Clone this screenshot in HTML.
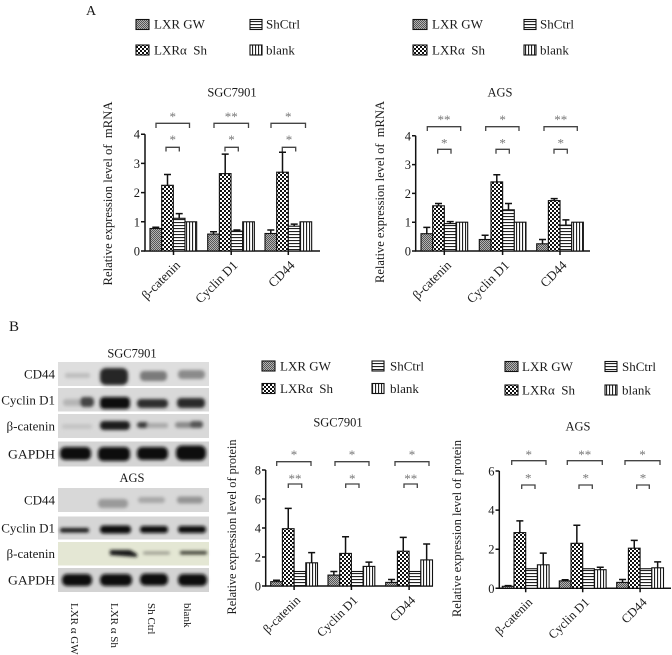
<!DOCTYPE html>
<html><head><meta charset="utf-8"><style>
html,body{margin:0;padding:0;background:#fff;}
svg{display:block;}
text{font-family:"Liberation Serif",serif;fill:#1a1a1a;}
.st{fill:#777;font-size:13px;}
.tk{font-size:12.5px;text-anchor:end;}
.lg{font-size:13px;}
.xl{font-size:13px;text-anchor:end;}
.ax{stroke:#111;stroke-width:1.5;fill:none;}
.br{stroke:#444;stroke-width:1.3;fill:none;}
.eb{stroke:#111;stroke-width:1.5;fill:none;}
.bar{stroke:#111;stroke-width:1.1;}
</style></head><body>
<svg width="672" height="655" viewBox="0 0 672 655" xmlns="http://www.w3.org/2000/svg">
<defs>
<pattern id="pGW" width="2" height="2" patternUnits="userSpaceOnUse"><rect width="2" height="2" fill="#b4b4b4"/><rect width="1" height="1" fill="#555"/><rect x="1" y="1" width="1" height="1" fill="#555"/></pattern>
<pattern id="pSh" width="4" height="4" patternUnits="userSpaceOnUse"><rect width="4" height="4" fill="#111"/><rect width="2" height="2" fill="#fff"/><rect x="2" y="2" width="2" height="2" fill="#fff"/></pattern>
<pattern id="pH" width="3" height="3" patternUnits="userSpaceOnUse"><rect width="3" height="3" fill="#fff"/><rect width="3" height="1.1" fill="#222"/></pattern>
<pattern id="pV" width="3" height="3" patternUnits="userSpaceOnUse"><rect width="3" height="3" fill="#fff"/><rect width="1.1" height="3" fill="#222"/></pattern>
<filter id="bl" x="-20%" y="-50%" width="140%" height="200%"><feGaussianBlur stdDeviation="1.6"/></filter>
<filter id="bl2" x="-20%" y="-50%" width="140%" height="200%"><feGaussianBlur stdDeviation="2.4"/></filter>
</defs>

<!-- ============ PANEL A LEGENDS ============ -->
<text x="86" y="15" font-size="14">A</text>
<rect x="136" y="19.5" width="13" height="10" fill="url(#pGW)" class="bar"/>
<text class="lg" x="154" y="28.5">LXR GW</text>
<rect x="250" y="19.5" width="12" height="10" fill="url(#pH)" class="bar"/>
<text class="lg" x="266" y="28.5">ShCtrl</text>
<rect x="136" y="45" width="13" height="10" fill="url(#pSh)" class="bar"/>
<text class="lg" x="154" y="54.5">LXRα&#160;&#160;Sh</text>
<rect x="250" y="45" width="12" height="10" fill="url(#pV)" class="bar"/>
<text class="lg" x="266" y="54.5">blank</text>

<rect x="413" y="19.5" width="14" height="10" fill="url(#pGW)" class="bar"/>
<text class="lg" x="432" y="28.5">LXR GW</text>
<rect x="524" y="19.5" width="12" height="10" fill="url(#pH)" class="bar"/>
<text class="lg" x="540" y="28.5">ShCtrl</text>
<rect x="413" y="45" width="14" height="10" fill="url(#pSh)" class="bar"/>
<text class="lg" x="432" y="54.5">LXRα&#160;&#160;Sh</text>
<rect x="524" y="45" width="12" height="10" fill="url(#pV)" class="bar"/>
<text class="lg" x="540" y="54.5">blank</text>

<!-- ============ CHART 1: SGC7901 mRNA ============ -->
<text x="232" y="96.5" font-size="12.5" text-anchor="middle">SGC7901</text>
<text transform="translate(112,193.5) rotate(-90)" font-size="13" text-anchor="middle" textLength="184" lengthAdjust="spacingAndGlyphs">Relative expression level of&#160;&#160;mRNA</text>
<path class="ax" d="M145,134.2 V251 H320"/>
<path class="ax" d="M141,251H145M141,221.8H145M141,192.6H145M141,163.4H145M141,134.2H145M173.5,251V255M231.2,251V255M288.3,251V255"/>
<text class="tk" x="140" y="255.5">0</text>
<text class="tk" x="140" y="226.3">1</text>
<text class="tk" x="140" y="197.1">2</text>
<text class="tk" x="140" y="167.9">3</text>
<text class="tk" x="140" y="138.7">4</text>
<!-- bars -->
<rect class="bar" x="150" y="228.5" width="11.67" height="22.5" fill="url(#pGW)"/>
<rect class="bar" x="161.67" y="185.3" width="11.67" height="65.7" fill="url(#pSh)"/>
<rect class="bar" x="173.33" y="218.3" width="11.67" height="32.7" fill="url(#pH)"/>
<rect class="bar" x="185" y="221.8" width="11.67" height="29.2" fill="url(#pV)"/>
<rect class="bar" x="207.7" y="234.1" width="11.67" height="16.9" fill="url(#pGW)"/>
<rect class="bar" x="219.37" y="173.6" width="11.67" height="77.4" fill="url(#pSh)"/>
<rect class="bar" x="231.03" y="231.1" width="11.67" height="19.9" fill="url(#pH)"/>
<rect class="bar" x="242.7" y="221.8" width="11.67" height="29.2" fill="url(#pV)"/>
<rect class="bar" x="265" y="233.5" width="11.67" height="17.5" fill="url(#pGW)"/>
<rect class="bar" x="276.67" y="172.2" width="11.67" height="78.8" fill="url(#pSh)"/>
<rect class="bar" x="288.33" y="226.2" width="11.67" height="24.8" fill="url(#pH)"/>
<rect class="bar" x="300" y="221.8" width="11.67" height="29.2" fill="url(#pV)"/>
<path class="eb" d="M155.8,228.5V227.3M152.3,227.3H159.3 M167.5,185.3V174.5M164,174.5H171 M179.2,218.3V213.6M175.7,213.6H182.7 M213.5,234.1V231.7M210,231.7H217 M225.2,173.6V154.1M221.7,154.1H228.7 M236.9,231.1V230M233.4,230H240.4 M270.8,233.5V230M267.3,230H274.3 M282.5,172.2V152.3M279,152.3H286 M294.2,226.2V224.1M290.7,224.1H297.7"/>
<!-- brackets -->
<path class="br" d="M156,128V123.3H189.5V128 M214,128V123.3H248.5V128 M271,128V123.3H305.5V128 M166,151.5V147.3H179.3V151.5 M225,151.5V147.3H238.3V151.5 M282.3,151.5V147.3H295.7V151.5"/>
<text class="st" x="172.7" y="121" text-anchor="middle">*</text>
<text class="st" x="231.2" y="121" text-anchor="middle">**</text>
<text class="st" x="288.3" y="121" text-anchor="middle">*</text>
<text class="st" x="172.7" y="144" text-anchor="middle">*</text>
<text class="st" x="231.5" y="144" text-anchor="middle">*</text>
<text class="st" x="289" y="144" text-anchor="middle">*</text>
<text class="xl" transform="translate(181,266) rotate(-45)">β-catenin</text>
<text class="xl" transform="translate(238.5,266) rotate(-45)">Cyclin D1</text>
<text class="xl" transform="translate(295.5,266) rotate(-45)">CD44</text>

<!-- ============ CHART 2: AGS mRNA ============ -->
<text x="500" y="96.5" font-size="12.5" text-anchor="middle">AGS</text>
<text transform="translate(384,192) rotate(-90)" font-size="13" text-anchor="middle" textLength="182" lengthAdjust="spacingAndGlyphs">Relative expression level of&#160;&#160;mRNA</text>
<path class="ax" d="M415.7,135.8 V251 H590"/>
<path class="ax" d="M412,251H415.7M412,222.2H415.7M412,193.4H415.7M412,164.6H415.7M412,135.8H415.7M444.3,251V255M502.6,251V255M560,251V255"/>
<text class="tk" x="411" y="255.5">0</text>
<text class="tk" x="411" y="226.7">1</text>
<text class="tk" x="411" y="197.9">2</text>
<text class="tk" x="411" y="169.1">3</text>
<text class="tk" x="411" y="140.3">4</text>
<rect class="bar" x="421" y="233.7" width="11.67" height="17.3" fill="url(#pGW)"/>
<rect class="bar" x="432.67" y="205.8" width="11.67" height="45.2" fill="url(#pSh)"/>
<rect class="bar" x="444.33" y="223.6" width="11.67" height="27.4" fill="url(#pH)"/>
<rect class="bar" x="456" y="222.2" width="11.67" height="28.8" fill="url(#pV)"/>
<rect class="bar" x="479.3" y="239.5" width="11.67" height="11.5" fill="url(#pGW)"/>
<rect class="bar" x="490.97" y="181.9" width="11.67" height="69.1" fill="url(#pSh)"/>
<rect class="bar" x="502.63" y="209.8" width="11.67" height="41.2" fill="url(#pH)"/>
<rect class="bar" x="514.3" y="222.2" width="11.67" height="28.8" fill="url(#pV)"/>
<rect class="bar" x="536.7" y="243.8" width="11.67" height="7.2" fill="url(#pGW)"/>
<rect class="bar" x="548.37" y="200.6" width="11.67" height="50.4" fill="url(#pSh)"/>
<rect class="bar" x="560.03" y="225.1" width="11.67" height="25.9" fill="url(#pH)"/>
<rect class="bar" x="571.7" y="222.2" width="11.67" height="28.8" fill="url(#pV)"/>
<path class="eb" d="M426.8,233.7V227.4M423.3,227.4H430.3 M438.5,205.8V203.5M435,203.5H442 M450.2,223.6V221.6M446.7,221.6H453.7 M485.1,239.5V235.2M481.6,235.2H488.6 M496.8,181.9V174.7M493.3,174.7H500.3 M508.5,209.8V203.5M505,203.5H512 M542.5,243.8V239.5M539,239.5H546 M554.2,200.6V198.6M550.7,198.6H557.7 M565.9,225.1V219.9M562.4,219.9H569.4"/>
<path class="br" d="M427.3,131V126.7H460.7V131 M485.7,131V126.7H519V131 M544,131V126.7H577.3V131 M437.7,153.7V149.3H451V153.7 M496,153.7V149.3H509.3V153.7 M554,153.7V149.3H567.3V153.7"/>
<text class="st" x="444" y="124" text-anchor="middle">**</text>
<text class="st" x="502.6" y="124" text-anchor="middle">*</text>
<text class="st" x="560.7" y="124" text-anchor="middle">**</text>
<text class="st" x="444.3" y="147.7" text-anchor="middle">*</text>
<text class="st" x="502.6" y="147.7" text-anchor="middle">*</text>
<text class="st" x="560.7" y="147.7" text-anchor="middle">*</text>
<text class="xl" transform="translate(452,266) rotate(-45)">β-catenin</text>
<text class="xl" transform="translate(510,266) rotate(-45)">Cyclin D1</text>
<text class="xl" transform="translate(567.5,266) rotate(-45)">CD44</text>

<!-- ============ PANEL B: WESTERN BLOTS ============ -->
<text x="9" y="331" font-size="15">B</text>
<text x="132" y="357.5" font-size="12.5" text-anchor="middle">SGC7901</text>
<text x="132" y="482" font-size="12.5" text-anchor="middle">AGS</text>

<g font-size="13" text-anchor="end">
<text x="55" y="378.5">CD44</text>
<text x="55" y="404.5">Cyclin D1</text>
<text x="55" y="430.5">β-catenin</text>
<text x="55" y="458.5" textLength="47" lengthAdjust="spacingAndGlyphs">GAPDH</text>
<text x="55" y="504.5">CD44</text>
<text x="55" y="532.5">Cyclin D1</text>
<text x="55" y="558">β-catenin</text>
<text x="55" y="584.5" textLength="47" lengthAdjust="spacingAndGlyphs">GAPDH</text>
</g>

<!-- SGC blots -->
<rect x="58" y="362" width="151" height="24" fill="#dedede"/>
<rect x="58" y="388" width="151" height="23.5" fill="#d9d9d9"/>
<rect x="58" y="414" width="151" height="24" fill="#d9d9d9"/>
<rect x="58" y="441.5" width="151" height="25" fill="#d4d4d4"/>
<g filter="url(#bl)">
<rect x="65" y="373" width="25" height="5" rx="2" fill="#bdbdbd"/>
<rect x="100" y="368" width="28" height="17" rx="6" fill="#262626"/>
<rect x="140" y="371" width="27" height="10" rx="4" fill="#7a7a7a"/>
<rect x="178" y="370" width="27" height="9" rx="4" fill="#8a8a8a"/>
<rect x="63" y="399" width="20" height="7" rx="3" fill="#b5b5b5"/>
<rect x="80" y="397" width="14" height="10" rx="4" fill="#444"/>
<rect x="100" y="397" width="30" height="12" rx="4" fill="#0d0d0d"/>
<rect x="137" y="399" width="31" height="9" rx="4" fill="#2e2e2e"/>
<rect x="177" y="398" width="28" height="10" rx="4" fill="#2a2a2a"/>
<rect x="62" y="424" width="30" height="5" rx="2" fill="#c4c4c4"/>
<rect x="100" y="421" width="30" height="9" rx="4" fill="#1e1e1e"/>
<rect x="137" y="422" width="12" height="6" rx="3" fill="#3a3a3a"/>
<rect x="147" y="423" width="21" height="5" rx="2" fill="#a8a8a8"/>
<rect x="175" y="422" width="28" height="6" rx="3" fill="#8a8a8a"/>
<rect x="190" y="421" width="13" height="7" rx="3" fill="#555"/>
<rect x="60" y="447" width="31" height="13" rx="5" fill="#0a0a0a"/>
<rect x="98" y="447" width="32" height="14" rx="5" fill="#0a0a0a"/>
<rect x="137" y="447" width="31" height="13" rx="5" fill="#0a0a0a"/>
<rect x="176" y="445.5" width="30" height="15" rx="6" fill="#0a0a0a"/>
</g>

<!-- AGS blots -->
<rect x="58" y="488" width="151" height="24" fill="#d8d8d8"/>
<rect x="58" y="516.5" width="151" height="23" fill="#d6d6d6"/>
<rect x="58" y="542" width="151" height="23.5" fill="#e4e7d4"/>
<rect x="58" y="568" width="151" height="24" fill="#d3d3d3"/>
<g filter="url(#bl)">
<rect x="98" y="499" width="30" height="9" rx="4" fill="#9a9a9a"/>
<rect x="138" y="497" width="27" height="6" rx="3" fill="#a8a8a8"/>
<rect x="177" y="496.5" width="26" height="7" rx="3" fill="#949494"/>
<rect x="60" y="528" width="29" height="4.5" rx="2" fill="#151515"/>
<rect x="100" y="525.5" width="31" height="8" rx="3.5" fill="#070707"/>
<rect x="140" y="526" width="28" height="7" rx="3" fill="#0d0d0d"/>
<rect x="178" y="526" width="28" height="7" rx="3" fill="#0d0d0d"/>
<path d="M110,550 L130,550 L137,554 L137,557 L130,556.5 L110,555 Z" fill="#151515"/>
<rect x="143" y="551.5" width="27" height="3" rx="1.5" fill="#9a9a8e"/>
<rect x="180" y="551" width="27" height="3.5" rx="1.5" fill="#3a3a32"/>
<rect x="62" y="574" width="30" height="12" rx="5" fill="#0a0a0a"/>
<rect x="100" y="574" width="32" height="12" rx="5" fill="#0a0a0a"/>
<rect x="140" y="573.5" width="28" height="12" rx="5" fill="#0a0a0a"/>
<rect x="178" y="574" width="29" height="12" rx="5" fill="#0a0a0a"/>
</g>

<g font-size="11" fill="#333">
<text transform="translate(71,603) rotate(90)">LXR α GW</text>
<text transform="translate(111,603) rotate(90)">LXR α Sh</text>
<text transform="translate(148,603) rotate(90)">Sh Ctrl</text>
<text transform="translate(184,603) rotate(90)">blank</text>
</g>

<!-- ============ PANEL B LEGENDS ============ -->
<rect x="262" y="361" width="13" height="10" fill="url(#pGW)" class="bar"/>
<text class="lg" x="280" y="370.5">LXR GW</text>
<rect x="372" y="361" width="12" height="10" fill="url(#pH)" class="bar"/>
<text class="lg" x="390" y="370.5">ShCtrl</text>
<rect x="262" y="383.5" width="13" height="10" fill="url(#pSh)" class="bar"/>
<text class="lg" x="280" y="393">LXRα&#160;&#160;Sh</text>
<rect x="372" y="383.5" width="12" height="10" fill="url(#pV)" class="bar"/>
<text class="lg" x="390" y="393">blank</text>

<rect x="505" y="361.5" width="13" height="10" fill="url(#pGW)" class="bar"/>
<text class="lg" x="522" y="371">LXR GW</text>
<rect x="605" y="361.5" width="12" height="10" fill="url(#pH)" class="bar"/>
<text class="lg" x="622" y="371">ShCtrl</text>
<rect x="505" y="385" width="13" height="10" fill="url(#pSh)" class="bar"/>
<text class="lg" x="522" y="394.5">LXRα&#160;&#160;Sh</text>
<rect x="605" y="385" width="12" height="10" fill="url(#pV)" class="bar"/>
<text class="lg" x="622" y="394.5">blank</text>

<!-- ============ CHART 3: SGC7901 protein ============ -->
<text x="338" y="426.5" font-size="12.5" text-anchor="middle">SGC7901</text>
<text transform="translate(236,527) rotate(-90)" font-size="12.5" text-anchor="middle" textLength="175" lengthAdjust="spacingAndGlyphs">Relative expression level of protein</text>
<path class="ax" d="M265.7,470 V586 H433"/>
<path class="ax" d="M262,586H265.7M262,557H265.7M262,528H265.7M262,499H265.7M262,470H265.7M294.1,586V590M351.4,586V590M409.1,586V590"/>
<text class="tk" x="261" y="590.5">0</text>
<text class="tk" x="261" y="561.5">2</text>
<text class="tk" x="261" y="532.5">4</text>
<text class="tk" x="261" y="503.5">6</text>
<text class="tk" x="261" y="474.5">8</text>
<rect class="bar" x="270.7" y="581.65" width="11.7" height="4.35" fill="url(#pGW)"/>
<rect class="bar" x="282.4" y="528.7" width="11.7" height="57.3" fill="url(#pSh)"/>
<rect class="bar" x="294.1" y="571.5" width="11.7" height="14.5" fill="url(#pH)"/>
<rect class="bar" x="305.8" y="562.8" width="11.7" height="23.2" fill="url(#pV)"/>
<rect class="bar" x="328" y="575.1" width="11.7" height="10.9" fill="url(#pGW)"/>
<rect class="bar" x="339.7" y="553.4" width="11.7" height="32.6" fill="url(#pSh)"/>
<rect class="bar" x="351.4" y="571.5" width="11.7" height="14.5" fill="url(#pH)"/>
<rect class="bar" x="363.1" y="566.4" width="11.7" height="19.6" fill="url(#pV)"/>
<rect class="bar" x="385.7" y="582.4" width="11.7" height="3.6" fill="url(#pGW)"/>
<rect class="bar" x="397.4" y="551.2" width="11.7" height="34.8" fill="url(#pSh)"/>
<rect class="bar" x="409.1" y="571.5" width="11.7" height="14.5" fill="url(#pH)"/>
<rect class="bar" x="420.8" y="559.9" width="11.7" height="26.1" fill="url(#pV)"/>
<path class="eb" d="M276.55,581.65V580.2M273,580.2H280 M288.25,528.7V508.4M284.75,508.4H291.75 M311.65,562.8V552.65M308.15,552.65H315.15 M333.85,575.1V571.5M330.35,571.5H337.35 M345.55,553.4V536.7M342.05,536.7H349.05 M368.95,566.4V562.1M365.45,562.1H372.45 M391.55,582.4V579.5M388.05,579.5H395.05 M403.25,551.2V537.4M399.75,537.4H406.75 M426.65,559.9V543.95M423.15,543.95H430.15"/>
<path class="br" d="M276.7,466V461.7H311V466 M335,466V461.7H369V466 M395,466V461.7H429V466 M288.3,488V484H301.7V488 M345.7,488V484H359V488 M404,488V484H417.3V488"/>
<text class="st" x="294" y="459" text-anchor="middle">*</text>
<text class="st" x="352" y="459" text-anchor="middle">*</text>
<text class="st" x="412" y="459" text-anchor="middle">*</text>
<text class="st" x="295" y="483" text-anchor="middle">**</text>
<text class="st" x="352.3" y="483" text-anchor="middle">*</text>
<text class="st" x="410.7" y="483" text-anchor="middle">**</text>
<g font-size="12.5" text-anchor="end">
<text transform="translate(301,601) rotate(-45)">β-catenin</text>
<text transform="translate(358.4,601) rotate(-45)">Cyclin D1</text>
<text transform="translate(416,601) rotate(-45)">CD44</text>
</g>

<!-- ============ CHART 4: AGS protein ============ -->
<text x="578" y="430.5" font-size="12.5" text-anchor="middle">AGS</text>
<text transform="translate(461,528.5) rotate(-90)" font-size="12.5" text-anchor="middle" textLength="177" lengthAdjust="spacingAndGlyphs">Relative expression level of protein</text>
<path class="ax" d="M499.3,471 V588.3 H671"/>
<path class="ax" d="M495.5,588.3H499.3M495.5,549.2H499.3M495.5,510.1H499.3M495.5,471H499.3M525.7,588.3V592.3M582.7,588.3V592.3M640.1,588.3V592.3"/>
<text class="tk" x="494.5" y="592.8">0</text>
<text class="tk" x="494.5" y="553.7">2</text>
<text class="tk" x="494.5" y="514.6">4</text>
<text class="tk" x="494.5" y="475.5">6</text>
<rect class="bar" x="502.3" y="586.3" width="11.7" height="2" fill="url(#pGW)"/>
<rect class="bar" x="514" y="532.6" width="11.7" height="55.7" fill="url(#pSh)"/>
<rect class="bar" x="525.7" y="568.75" width="11.7" height="19.55" fill="url(#pH)"/>
<rect class="bar" x="537.4" y="564.8" width="11.7" height="23.5" fill="url(#pV)"/>
<rect class="bar" x="559.3" y="580.9" width="11.7" height="7.4" fill="url(#pGW)"/>
<rect class="bar" x="571" y="543.3" width="11.7" height="45" fill="url(#pSh)"/>
<rect class="bar" x="582.7" y="568.75" width="11.7" height="19.55" fill="url(#pH)"/>
<rect class="bar" x="594.4" y="569.7" width="11.7" height="18.6" fill="url(#pV)"/>
<rect class="bar" x="616.7" y="582.4" width="11.7" height="5.9" fill="url(#pGW)"/>
<rect class="bar" x="628.4" y="548.2" width="11.7" height="40.1" fill="url(#pSh)"/>
<rect class="bar" x="640.1" y="568.75" width="11.7" height="19.55" fill="url(#pH)"/>
<rect class="bar" x="651.8" y="567.8" width="11.7" height="20.5" fill="url(#pV)"/>
<path class="eb" d="M508.15,586.3V585.6M504.65,585.6H511.65 M519.85,532.6V520.9M516.35,520.9H523.35 M543.25,564.8V553.1M539.75,553.1H546.75 M565.15,580.9V579.8M561.65,579.8H568.65 M576.85,543.3V525.3M573.35,525.3H580.35 M600.25,569.7V567.2M596.75,567.2H603.75 M622.55,582.4V579.5M619.05,579.5H626.05 M634.25,548.2V540.4M630.75,540.4H637.75 M657.65,567.8V561.9M654.15,561.9H661.15"/>
<path class="br" d="M511.7,465V460.7H546V465 M567.3,465V460.7H602.3V465 M625,465V460.7H660V465 M521.7,489V485H535V489 M579,489V485H592.3V489 M636.7,489V485H649.3V489"/>
<text class="st" x="528.8" y="459" text-anchor="middle">*</text>
<text class="st" x="584.8" y="459" text-anchor="middle">**</text>
<text class="st" x="642.5" y="459" text-anchor="middle">*</text>
<text class="st" x="528.3" y="482.7" text-anchor="middle">*</text>
<text class="st" x="585.7" y="482.7" text-anchor="middle">*</text>
<text class="st" x="643" y="482.7" text-anchor="middle">*</text>
<g font-size="12.5" text-anchor="end">
<text transform="translate(533,603) rotate(-45)">β-catenin</text>
<text transform="translate(590,603) rotate(-45)">Cyclin D1</text>
<text transform="translate(647.5,603) rotate(-45)">CD44</text>
</g>
</svg>
</body></html>
